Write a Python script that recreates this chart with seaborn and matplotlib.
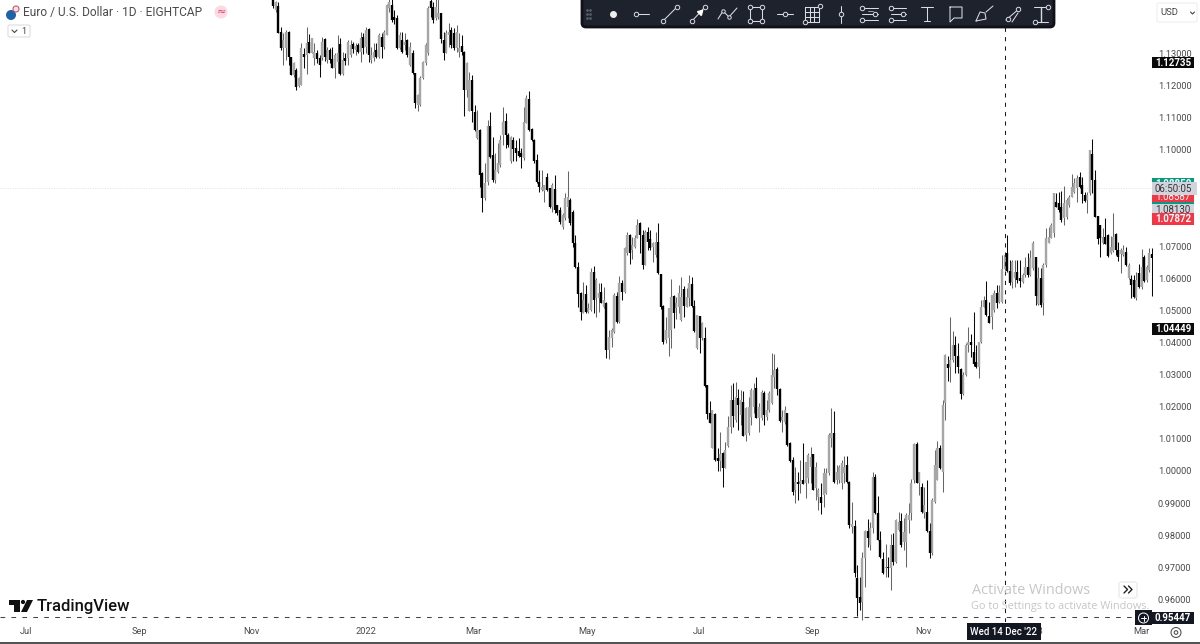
import numpy as np
import pandas as pd
import seaborn as sns
import matplotlib
matplotlib.use("Agg")
import matplotlib.pyplot as plt
from matplotlib.patches import Rectangle, FancyBboxPatch, Circle, Polygon

# EUR/USD daily candles, values in 1/10000 of a dollar
body_high = [
 11467,11462,11448,11368,11342,11368,11368,11291,11270,11249, 11223,11316,11299,11332,11337,11348,11306,11301,11285,11337,
 11345,11311,11311,11282,11296,11301,11330,11280,11285,11337, 11327,11330,11324,11327,11348,11351,11374,11376,11296,11306,
 11311,11358,11353,11368,11451,11462,11451,11415,11410,11358, 11342,11337,11342,11322,11301,11239,11171,11223,11275,11327,
 11441,11464,11446,11446,11428,11428,11342,11363,11368,11374, 11363,11368,11316,11324,11306,11270,11218,11218,11119,11062,
 11062,10927,10896,11073,11075,10984,10938,10958,11031,11088, 11090,11047,11041,11031,11005,10998,10990,11088,11161,11158,
 11064,11031,10969,10901,10886,10891,10917,10881,10891,10877, 10829,10813,10797,10850,10853,10844,10807,10710,10635,10554,
 10533,10551,10508,10620,10620,10595,10554,10557,10533,10523, 10417,10439,10548,10545,10585,10585,10694,10735,10735,10704,
 10726,10766,10772,10735,10744,10744,10722,10710,10713,10713, 10613,10514,10439,10508,10542,10545,10523,10554,10542,10567,
 10542,10585,10582,10514,10486,10483,10461,10414,10268,10180, 10190,10177,10040,10053,10056,10065,10137,10221,10221,10230,
 10227,10221,10215,10196,10199,10252,10252,10258,10199,10246, 10243,10190,10243,10299,10314,10318,10255,10168,10190,10180,
 10087,10034,9966,9966,9969,9972,10028,10050,10044,10053, 10012,9941,9919,9994,9994,10112,10118,10118,9997,10012,
 10025,10012,10019,9966,9835,9829,9667,9607,9729,9813, 9813,9822,9981,9981,9869,9785,9726,9701,9701,9769,
 9769,9847,9841,9844,9810,9863,9863,9962,10084,10084, 9997,9950,9894,9872,9813,9910,10019,10071,10071,10205,
 10361,10333,10346,10392,10392,10358,10318,10299,10392,10402, 10402,10371,10339,10402,10511,10533,10533,10483,10548,10554,
 10554,10557,10629,10673,10679,10623,10651,10620,10620,10601, 10610,10635,10635,10663,10710,10666,10601,10601,10641,10726,
 10729,10766,10866,10838,10835,10822,10835,10844,10853,10884, 10897,10913,10916,10891,10860,10860,11000,10987,10906,10794,
 10766,10729,10729,10735,10698,10729,10738,10688,10688,10688, 10682,10642,10598,10595,10595,10617,10635,10666,10635,10679,10676]

body_low = [
 11448,11436,11363,11316,11316,11316,11288,11233,11233,11195, 11199,11202,11288,11296,11301,11301,11285,11282,11263,11285,
 11291,11280,11280,11254,11254,11275,11237,11237,11277,11285, 11296,11313,11311,11306,11306,11316,11322,11296,11280,11285,
 11288,11291,11320,11322,11358,11441,11405,11405,11316,11316, 11306,11327,11296,11265,11239,11145,11140,11140,11223,11270,
 11301,11441,11405,11410,11415,11345,11303,11303,11358,11327, 11316,11316,11306,11306,11187,11187,11122,11122,11062,11036,
 10922,10849,10849,10901,10979,10906,10906,10932,10953,11047, 11047,11015,10964,11002,10990,10981,10979,10974,11085,11062,
 11031,10964,10901,10886,10875,10873,10875,10823,10821,10813, 10803,10776,10760,10788,10822,10772,10710,10635,10551,10495,
 10492,10495,10495,10501,10533,10539,10539,10523,10511,10377, 10377,10414,10433,10464,10464,10557,10557,10679,10679,10688,
 10698,10726,10735,10642,10642,10713,10694,10698,10673,10617, 10511,10402,10408,10414,10439,10492,10508,10511,10470,10514,
 10511,10539,10514,10436,10383,10414,10414,10265,10177,10149, 10071,10034,10031,10031,10009,10009,10078,10137,10171,10159,
 10205,10174,10109,10112,10118,10168,10199,10165,10165,10165, 10174,10168,10190,10212,10293,10255,10156,10159,10152,10081,
 10031,9934,9941,9959,9959,9959,9962,9978,10012,9941, 9947,9919,9900,9925,9931,9994,10103,9966,9972,9972,
 9962,9994,9966,9832,9825,9682,9604,9589,9592,9729, 9791,9769,9822,9869,9785,9732,9682,9698,9698,9698,
 9716,9716,9816,9769,9779,9779,9847,9869,9972,9962, 9962,9872,9869,9813,9744,9744,9903,9972,10009,9997,
 10212,10321,10324,10346,10358,10324,10240,10240,10299,10392, 10392,10333,10324,10324,10402,10511,10486,10461,10480,10501,
 10523,10526,10526,10629,10623,10585,10589,10601,10595,10592, 10589,10610,10610,10610,10632,10545,10520,10517,10523,10641,
 10710,10726,10741,10822,10813,10782,10788,10791,10828,10853, 10869,10881,10884,10863,10841,10844,10866,10906,10791,10723,
 10726,10710,10707,10670,10679,10685,10688,10666,10676,10673, 10642,10601,10579,10542,10539,10573,10573,10592,10595,10626,10663]

highs = [
 11490,11465,11462,11384,11363,11374,11371,11291,11275,11254, 11228,11332,11316,11382,11360,11348,11332,11311,11296,11353,
 11348,11322,11316,11322,11301,11358,11348,11306,11301,11342, 11342,11337,11332,11332,11368,11363,11384,11379,11322,11332,
 11332,11363,11363,11374,11455,11490,11480,11436,11420,11368, 11368,11363,11345,11337,11311,11241,11173,11230,11277,11332,
 11448,11490,11462,11480,11480,11428,11368,11374,11394,11384, 11379,11389,11363,11358,11309,11275,11244,11233,11140,11124,
 11064,10932,10958,11093,11119,11041,10990,11021,11047,11135, 11114,11052,11043,11041,11031,11036,11005,11135,11171,11185,
 11067,11033,10987,10936,10936,10891,10929,10881,10896,10922, 10829,10822,10803,10866,10934,10850,10813,10735,10651,10557,
 10589,10579,10523,10632,10638,10601,10585,10585,10573,10526, 10439,10445,10554,10557,10607,10595,10697,10744,10738,10729,
 10735,10785,10775,10751,10751,10760,10751,10713,10744,10772, 10613,10517,10480,10508,10598,10548,10542,10579,10604,10576,
 10570,10610,10604,10533,10486,10483,10464,10448,10268,10218, 10190,10180,10071,10121,10059,10090,10171,10268,10274,10277,
 10255,10252,10249,10199,10230,10258,10274,10293,10212,10252, 10249,10221,10249,10367,10364,10324,10258,10190,10202,10180,
 10090,10043,10012,9997,10034,10087,10028,10056,10075,10053, 10028,9947,9962,10009,10009,10118,10196,10187,10019,10019,
 10034,10047,10047,9969,9903,9847,9707,9670,9748,9816, 9850,9841,9997,9990,9922,9813,9748,9772,9732,9804,
 9807,9850,9872,9869,9853,9869,9900,9975,10087,10090, 9997,9962,9950,9972,9838,9916,10065,10093,10081,10221,
 10364,10358,10480,10436,10420,10399,10321,10308,10399,10448, 10427,10495,10392,10402,10533,10545,10592,10526,10548,10564,
 10579,10579,10673,10682,10735,10657,10657,10657,10657,10657, 10617,10666,10679,10688,10716,10666,10635,10632,10648,10757,
 10760,10772,10866,10866,10869,10872,10888,10850,10860,10925, 10913,10922,10931,10916,10869,10869,11000,11034,10937,10794,
 10766,10757,10788,10738,10732,10804,10741,10713,10694,10704, 10698,10648,10610,10610,10620,10645,10691,10673,10641,10694,10694]

lows = [
 11441,11431,11363,11311,11265,11280,11265,11233,11226,11187, 11195,11202,11254,11237,11301,11301,11265,11270,11226,11280,
 11278,11270,11270,11254,11223,11239,11233,11233,11265,11265, 11291,11301,11296,11301,11275,11299,11301,11275,11272,11278,
 11285,11285,11285,11313,11358,11431,11400,11392,11313,11313, 11301,11311,11291,11261,11237,11130,11122,11137,11220,11265,
 11296,11415,11396,11405,11407,11332,11280,11301,11322,11316, 11311,11306,11291,11296,11106,11166,11122,11088,11060,11033,
 10886,10808,10844,10891,10974,10901,10898,10927,10948,11015, 11005,11010,10958,10964,10964,10979,10945,10969,11083,11060,
 11029,10958,10898,10870,10873,10839,10873,10818,10808,10803, 10798,10769,10754,10782,10788,10766,10698,10632,10511,10470,
 10492,10492,10492,10498,10492,10480,10495,10523,10508,10352, 10349,10386,10430,10461,10461,10533,10554,10673,10645,10660,
 10695,10726,10679,10629,10642,10688,10688,10651,10666,10613, 10504,10395,10399,10358,10383,10445,10473,10492,10467,10480,
 10511,10514,10511,10433,10380,10367,10408,10261,10162,10149, 10071,10031,10000,10000,9950,10009,10075,10118,10137,10152,
 10128,10143,10109,10093,10112,10143,10180,10165,10121,10159, 10143,10159,10184,10209,10258,10237,10152,10121,10146,10078,
 10028,9925,9900,9910,9931,9959,9916,9962,9962,9941, 9910,9878,9866,9888,9928,9987,10075,9962,9959,9962,
 9944,9962,9962,9822,9807,9670,9548,9567,9536,9638, 9763,9754,9807,9866,9785,9729,9679,9670,9670,9629,
 9707,9713,9813,9763,9754,9701,9807,9847,9962,9962, 9925,9869,9853,9810,9729,9738,9900,9972,10006,9934,
 10159,10280,10277,10339,10305,10305,10224,10237,10296,10371, 10355,10327,10321,10290,10399,10511,10483,10461,10442,10495,
 10508,10523,10523,10626,10620,10579,10570,10573,10585,10573, 10585,10604,10604,10607,10626,10517,10517,10511,10486,10635,
 10710,10726,10729,10822,10807,10776,10766,10785,10822,10853, 10866,10838,10881,10835,10838,10803,10860,10866,10791,10707,
 10666,10707,10707,10666,10676,10682,10673,10654,10617,10670, 10638,10598,10539,10539,10533,10570,10567,10589,10589,10620,10545]

# "d" falling candle, "u" rising candle
direction = "".join([
 "dudduuddud", "uududuuddu", "duddu" "ududu", "ududududuu", "duduuudddu", "dududduuuu", "udduudduud", "duudduuddu",
 "dduudduuuu", "ddudddduud", "dddduuddud", "dduuuddddd", "uduuduudud", "uuududuudu", "uuddudduud", "dduuuduuud",
 "uuddududdd", "udduduuudu", "duduuuuduu", "duuuudduud", "ddududuuud", "uuduuuuduu", "uudduddduu", "duuddddudu",
 "duuduuuuud", "ududduuudu", "uduuddduuu", "ddduuudduu", "duuudduudd", "uuduududuu", "uuuddduuuu", "uuddduuddd",
 "duuduudduu".replace("duuduudduu", "dudduudduu"), "duddududuud"])

price_ticks = [0.96,0.97,0.98,0.99,1.00,1.01,1.02,1.03,1.04,1.05,1.06,1.07,1.08,1.09,1.10,1.11,1.12,1.13]
date_labels = ["Jul","Sep","Nov","2022","Mar","May","Jul","Sep","Nov","2023","Mar"]
date_bars = [-95.5,-51.8,-8.5,36.0,77.7,121.4,164.8,208.5,251.8,294.0,335.8]
crosshair_bar = 283
crosshair_price = 0.95447
last_price_line = 1.0881

n = len(highs)
assert len(direction) == n == len(lows) == len(body_high) == len(body_low)
sides = [d for d in direction for _ in range(2)]
wick_df = pd.DataFrame({
    "bar": np.repeat(np.arange(n), 2),
    "price": np.ravel(np.column_stack([highs, lows])) / 10000,
    "side": sides,
})
body_df = pd.DataFrame({
    "bar": np.repeat(np.arange(n), 2),
    "price": np.ravel(np.column_stack([body_high, body_low])) / 10000,
    "side": sides,
})

sns.set_theme(style="white")
plt.rcParams["font.family"] = ["Roboto", "DejaVu Sans"]

W, H = 1200, 644
fig = plt.figure(figsize=(12, 6.44), dpi=100, facecolor="white")
ax = fig.add_axes([0, (H - 622) / H, 1153 / W, 622 / H])
ax.set_xlim(-273 / 2.585, 880 / 2.585)
ax.set_ylim(1.1467 - 622 * 0.0003115, 1.1467)

sns.lineplot(data=wick_df, x="bar", y="price", units="bar", estimator=None, hue="side",
             hue_order=["u", "d"], palette={"u": "#666666", "d": "#0a0a0a"}, linewidth=0.75,
             legend=False, sort=False, solid_capstyle="butt", ax=ax)
sns.lineplot(data=body_df, x="bar", y="price", units="bar", estimator=None, hue="side",
             hue_order=["u", "d"], palette={"u": "#a6a6a6", "d": "#000000"}, linewidth=1.7,
             legend=False, sort=False, solid_capstyle="butt", ax=ax)

ax.axhline(last_price_line, color="#e2e2e2", lw=0.7, ls=(0, (1, 1.5)), zorder=1)
ax.axvline(crosshair_bar, color="#1a1a1a", lw=0.75, ls=(0, (4, 5)), zorder=4)
ax.axhline(crosshair_price, color="#444444", lw=0.75, ls=(0, (4.5, 6)), zorder=4)

ax.set_xlabel("")
ax.set_ylabel("")
ax.yaxis.tick_right()
ax.set_yticks(price_ticks)
ax.set_yticklabels([f"{p:.5f}" for p in price_ticks])
ax.set_xticks(date_bars)
ax.set_xticklabels(date_labels)
ax.tick_params(axis="y", length=0, pad=3.6, labelsize=6.7, labelcolor="#4a4a4a")
ax.tick_params(axis="x", length=0, pad=3.5, labelsize=6.7, labelcolor="#4a4a4a")
for s in ax.spines.values():
    s.set_visible(False)
ax.patch.set_alpha(0)

# ---- overlay of the trading-platform chrome, drawn in pixel coordinates
ov = fig.add_axes([0, 0, 1, 1], zorder=10)
ov.set_xlim(0, W)
ov.set_ylim(H, 0)
ov.axis("off")
ov.patch.set_alpha(0)

def rect(x0, y0, x1, y1, fc, ec="none", lw=0, z=2):
    ov.add_patch(Rectangle((x0, y0), x1 - x0, y1 - y0, fc=fc, ec=ec, lw=lw, zorder=z))

def txt(x, y, s, size=7, color="#333333", ha="center", weight="normal", z=6, **kw):
    return ov.text(x, y, s, fontsize=size, color=color, ha=ha, va="center", fontweight=weight, zorder=z, **kw)

TB = "#1e222d"
IC = "#d8dbe2"
ov.add_patch(FancyBboxPatch((582, -6), 472, 33, boxstyle="round,pad=0,rounding_size=4", fc=TB, ec="#101018", lw=2, zorder=3))

def ln(xs, ys, lw=0.75, c=IC):
    ov.plot(xs, ys, color=c, lw=lw, zorder=5, solid_capstyle="round")

def dot(x, y, ms=3.2):
    ov.plot([x], [y], "o", ms=ms, mfc=TB, mec=IC, mew=0.7, zorder=6)

for gx in (587, 590):
    for gy in (10, 14, 18):
        ov.plot([gx], [gy], "o", ms=1, color="#555a66", zorder=5)
ov.plot([613], [14], "o", ms=4, color="#eeeeee", zorder=5)
ln([636, 649], [14, 14]); dot(636, 14)
ln([663, 677], [21, 7]); dot(663, 21); dot(677, 7)
ln([692, 705], [21, 7]); dot(692, 21); dot(705, 7); ov.plot([700], [12], marker=(3, 0, -45), ms=4.5, color="#ffffff", zorder=6)
ln([718, 723, 729, 737], [19, 11, 17, 8]); dot(723, 11, 2.5); dot(729, 17, 2.5)
ln([750, 762, 762, 750, 750], [7, 7, 21, 21, 7])
for p in [(750, 7), (762, 7), (750, 21), (762, 21)]:
    dot(*p)
ln([777, 793], [14, 14]); dot(785, 14)
ln([805, 819, 819, 805, 805], [7, 7, 22, 22, 7])
for gx in (810, 814):
    ln([gx, gx], [7, 22])
for gy in (12, 17):
    ln([805, 819], [gy, gy])
dot(820, 6); dot(805, 22)
ln([841, 841], [6, 23]); dot(841, 14)
for i, gy in enumerate((8, 14, 20)):
    ln([862, 878], [gy, gy]); dot(862 if i != 1 else 875, gy)
ln([868, 873], [11, 11], 0.5)
for i, gy in enumerate((8, 14, 20)):
    ln([891, 906], [gy, gy]); dot(891 if i != 1 else 903, gy)
ln([921, 933], [7, 7]); ln([927, 927], [7, 21]); ln([924, 930], [21, 21])
ln([950, 962, 962, 954, 950, 950], [7, 7, 18, 18, 22, 7])
ln([976, 980, 985, 986, 976], [21, 12, 13, 19, 21]); ln([986, 993], [12, 6])
ln([1006, 1020], [20, 8]); dot(1008, 19); dot(1018, 9); ln([1012, 1018], [22, 13])
ln([1034, 1048], [7, 7]); ln([1034, 1048], [22, 22]); ln([1041, 1041], [7, 22], 1.0); dot(1048, 7); dot(1035, 22)

# header
txt(23, 12.5, "Euro / U.S. Dollar · 1D · EIGHTCAP", size=8.6, color="#4a4a4a", ha="left")
ov.add_patch(Circle((11, 15), 5, fc="#1f62a8", ec="none", zorder=4))
ov.add_patch(Circle((16, 9), 3, fc="#e8e8f0", ec="#d85060", lw=0.8, zorder=5))
ov.add_patch(Circle((221, 12), 6.5, fc="#fcd9e3", ec="none", zorder=4))
txt(221, 12, "≈", size=8, color="#e0406a", family=["DejaVu Sans"])
ov.add_patch(FancyBboxPatch((8, 25), 22, 12, boxstyle="round,pad=0,rounding_size=1.5", fc="white", ec="#dedede", lw=0.8, zorder=4))
ln([12, 14.5, 17], [30, 32.5, 30], 0.8, "#444444")
txt(24, 31, "1", size=6.5, color="#444444")

# currency selector
ov.add_patch(FancyBboxPatch((1157, 3), 40, 19, boxstyle="round,pad=0,rounding_size=2", fc="white", ec="#eeeeee", lw=0.8, zorder=4))
txt(1160, 12.5, "USD", size=6.8, color="#444444", ha="left")
ln([1190.5, 1192.5, 1194.5], [12, 14, 12], 0.8, "#444444")

# price tags
def tag(y0, y1, s, fc, tc="white", weight="bold", x0=1152, x1=1194, cy=None, z=4, size=7):
    rect(x0, y0, x1, y1, fc, z=z)
    t = txt(1173, (y0 + y1) / 2 if cy is None else cy, s, size=size, color=tc, weight=weight, z=z + 0.5)
    t.set_clip_path(Rectangle((x0, y0), x1 - x0, y1 - y0, transform=ov.transData))

tag(57, 68, "1.12735", "#0a0a0a")
tag(323, 335, "1.04449", "#0a0a0a")
tag(612, 624, "0.95447", "#131722")
tag(178, 204, "1.08850", "#089981", cy=184, z=3)
tag(191, 202, "1.08587", "#f23645", cy=197, z=4, weight="normal")
tag(182, 195, "06:50:05", "#d1d4dc", tc="#333333", weight="normal", x0=1152, x1=1197, z=5)
tag(204, 216, "1.08130", "#d1d4dc", tc="#333333", weight="normal", cy=210, z=3)
tag(213, 225, "1.07872", "#f23645", z=4)

# crosshair date
rect(967, 623, 1041, 640, "#131722", z=4)
txt(1004, 632, "Wed 14 Dec '22", size=7, color="white", z=5, weight="medium")

# plus button, chevrons, gear
rect(1135, 610, 1152, 625, "#131722", z=4)
ov.add_patch(Circle((1143.5, 618), 5, fc="none", ec="white", lw=0.7, zorder=5))
ln([1141, 1146], [618, 618], 0.7, "white"); ln([1143.5, 1143.5], [615.5, 620.5], 0.7, "white")
ov.add_patch(FancyBboxPatch((1119, 582), 18, 16, boxstyle="round,pad=0,rounding_size=2.5", fc="white", ec="#ececec", lw=1, zorder=4))
ln([1124, 1127.5, 1124], [586, 589.5, 593], 1.0, "#222222"); ln([1128.5, 1132, 1128.5], [586, 589.5, 593], 1.0, "#222222")
ov.add_patch(Circle((1176, 632.5), 5, fc="none", ec="#555555", lw=0.8, zorder=5))
ov.add_patch(Circle((1176, 632.5), 1.8, fc="none", ec="#555555", lw=0.8, zorder=5))
rect(0, 642, W, 644, "#555555", z=4)

# watermarks
txt(972, 590.5, "Activate Windows", size=10.4, color="#c6c6c6", ha="left", family=["Open Sans"])
txt(971, 607, "Go to Settings to activate Windows.", size=7.8, color="#c6c6c6", ha="left", family=["Open Sans"])

# TradingView logo
ov.add_patch(Polygon([(9, 600), (20, 600), (20, 612), (14, 612), (14, 604.5), (9, 604.5)], fc="#111111", ec="none", zorder=5))
ov.add_patch(Circle((23, 602), 2.1, fc="#111111", ec="none", zorder=5))
ov.add_patch(Polygon([(27, 600), (33, 600), (27, 612), (21, 612)], fc="#111111", ec="none", zorder=5))
txt(37, 606, "TradingView", size=12.0, color="#111111", ha="left", weight="medium")

fig.savefig("out.png", dpi=100)
